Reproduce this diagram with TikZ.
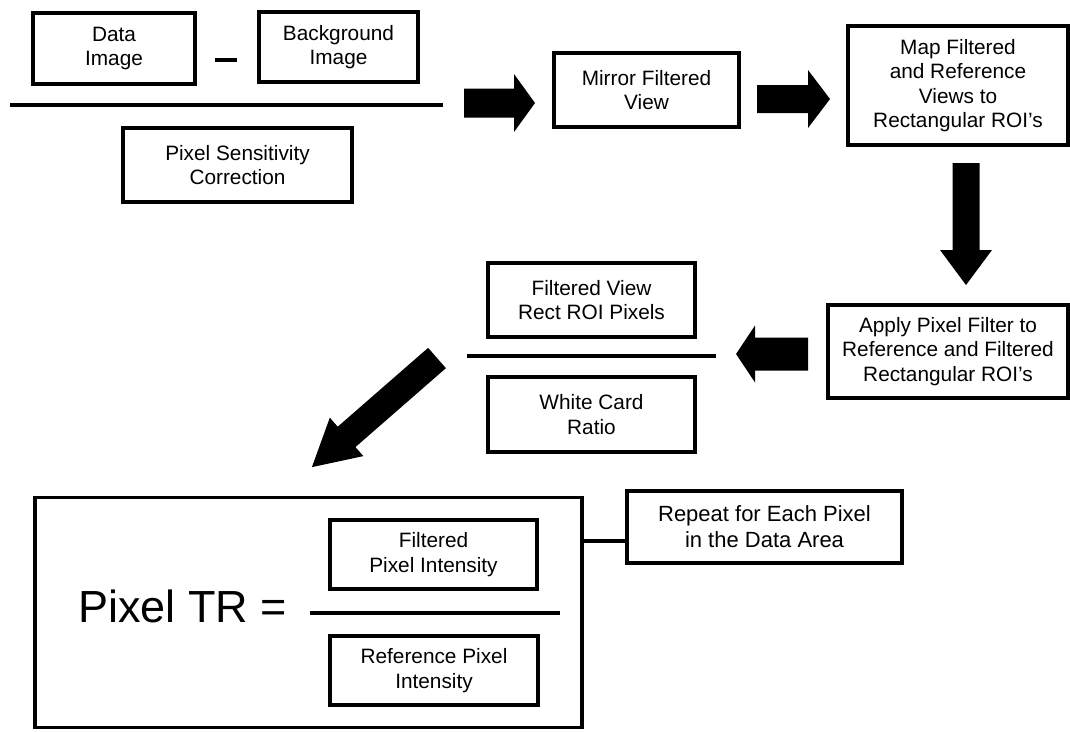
\documentclass[tikz,border=0pt]{standalone}
\usepackage{fontspec}
\setmainfont{Liberation Sans}
\newcommand\blockarrow[6]{% tail, angle, length, body half width, head half width, head length
  \fill[black, shift={(#1)}, rotate=#2] (0,-#4) -- ({#3-#6},-#4) -- ({#3-#6},-#5) -- (#3,0) -- ({#3-#6},#5) -- ({#3-#6},#4) -- (0,#4) -- cycle;}
\begin{document}
\begin{tikzpicture}[x=1pt,y=-1pt,
  box/.style={draw, line width=3.1pt, align=center, inner sep=0pt, font=\fontsize{20.8}{24.5}\selectfont},
  bar/.style={line width=3.8pt}]
\useasboundingbox (0,0) rectangle (1070,731);
% top-left group
\node[box, minimum width=162pt, minimum height=71pt] (data) at (114,48.5) {Data\\Image};
\node[box, minimum width=159pt, minimum height=70pt] (bg) at (338.5,47) {Background\\Image};
\coordinate (d1) at (215,60); \coordinate (d2) at (237,60);
\draw[line width=4pt] (d1) -- (d2);
\coordinate (l1a) at (10,105); \coordinate (l1b) at (443,105);
\draw[bar] (l1a) -- (l1b);
\node[box, minimum width=229pt, minimum height=74pt] (psc) at (237.5,165) {Pixel Sensitivity\\Correction};
% row 1
\node[box, minimum width=185pt, minimum height=74pt] (mirror) at (646.5,90) {Mirror Filtered\\View};
\node[box, minimum width=220pt, minimum height=119pt] (map) at (958,85.5) {Map Filtered\\and Reference\\Views to\\Rectangular ROI's};
\coordinate (a1) at (464,103);
\blockarrow{a1}{0}{71}{14.5}{29}{21}
\coordinate (a2) at (757,99);
\blockarrow{a2}{0}{73}{14}{29}{22}
\coordinate (a3) at (966,163);
\blockarrow{a3}{-90}{122}{13.5}{26}{35}
% row 2
\node[box, minimum width=240pt, minimum height=93pt] (apply) at (948,351.5) {Apply Pixel Filter to\\Reference and Filtered\\Rectangular ROI's};
\coordinate (a4) at (808,354);
\blockarrow{a4}{180}{72}{16.5}{28.5}{19}
\node[box, minimum width=207pt, minimum height=74pt] (fv) at (591.5,300) {Filtered View\\Rect ROI Pixels};
\coordinate (l2a) at (467,356); \coordinate (l2b) at (716,356);
\draw[bar] (l2a) -- (l2b);
\node[box, minimum width=207pt, minimum height=75pt] (wcr) at (591.5,414.5) {White Card\\Ratio};
\coordinate (a5) at (437,358);
\blockarrow{a5}{221.1}{166}{13.5}{25.5}{46}
% bottom
\node[draw, line width=3.1pt, minimum width=547pt, minimum height=230pt, inner sep=0pt] (big) at (308.5,612.5) {};
\node[anchor=base west, inner sep=0pt, font=\fontsize{45}{50}\selectfont] (ptr) at (78,622) {Pixel TR =};
\node[box, minimum width=207pt, minimum height=69pt] (filt) at (433.5,554.5) {Filtered\\Pixel Intensity};
\coordinate (l3a) at (310,613); \coordinate (l3b) at (560,613);
\draw[bar] (l3a) -- (l3b);
\node[box, minimum width=208pt, minimum height=69pt] (ref) at (434,670.5) {Reference Pixel\\Intensity};
\node[box, minimum width=275pt, minimum height=72pt, font=\fontsize{22}{26}\selectfont] (rep) at (764.5,527) {Repeat for Each Pixel\\in the Data Area};
\coordinate (c) at (600,541);
\draw[line width=3.1pt] (big.east |- c) -- (rep.west |- c);
\end{tikzpicture}
\end{document}
